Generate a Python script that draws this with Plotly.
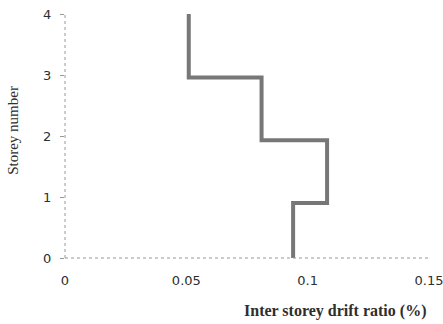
import plotly.graph_objects as go

# Step profile of inter storey drift ratio vs storey number
drift = [0.094, 0.094, 0.108, 0.108, 0.081, 0.081, 0.051, 0.051]
storey = [0, 0.9, 0.9, 1.93, 1.93, 2.96, 2.96, 4]

x_ticks = [0, 0.05, 0.1, 0.15]
x_tick_labels = ["0", "0.05", "0.1", "0.15"]
y_ticks = [0, 1, 2, 3, 4]

fig = go.Figure()
fig.add_trace(go.Scatter(x=drift, y=storey, mode="lines",
                         line=dict(color="#777777", width=4),
                         showlegend=False, hoverinfo="skip"))

axis_font = dict(family="DejaVu Sans", size=13, color="#2e2e2e")

fig.update_layout(
    width=443, height=324, autosize=False,
    margin=dict(l=65, r=14, t=14, b=66, autoexpand=False),
    paper_bgcolor="white", plot_bgcolor="white",
    xaxis=dict(range=[0, 0.15], tickvals=x_ticks, ticktext=x_tick_labels,
               showgrid=False, zeroline=False, showline=False, automargin=False,
               ticklabeloverflow="allow",
               ticks="", tickfont=axis_font, ticklabelstandoff=13),
    yaxis=dict(range=[0, 4], tickvals=y_ticks, showgrid=False, zeroline=False,
               showline=False, ticks="outside", ticklen=4, tickcolor="#999999",
               automargin=False, ticklabeloverflow="allow",
               tickfont=axis_font, ticklabelstandoff=6),
    shapes=[
        dict(type="line", xref="paper", yref="paper", x0=0, x1=1, y0=0, y1=0,
             line=dict(color="#999999", width=1, dash="dot")),
        dict(type="line", xref="paper", yref="paper", x0=0, x1=0, y0=0, y1=1,
             line=dict(color="#999999", width=1, dash="dot")),
    ],
    annotations=[
        dict(text="<b>Inter storey drift ratio (%)</b>", xref="paper", yref="paper",
             x=0.742, y=-0.218, xanchor="center", yanchor="middle", showarrow=False,
             font=dict(family="Liberation Serif", size=16, color="#2e2e2e")),
        dict(text="Storey number", xref="paper", yref="paper",
             x=-0.143, y=0.525, xanchor="center", yanchor="middle", showarrow=False,
             textangle=-90,
             font=dict(family="Liberation Serif", size=15, color="#2e2e2e")),
    ],
)

fig.write_html("out.html", config={"displayModeBar": False},
               post_script="document.body.style.margin='0';document.body.style.overflow='hidden';")
